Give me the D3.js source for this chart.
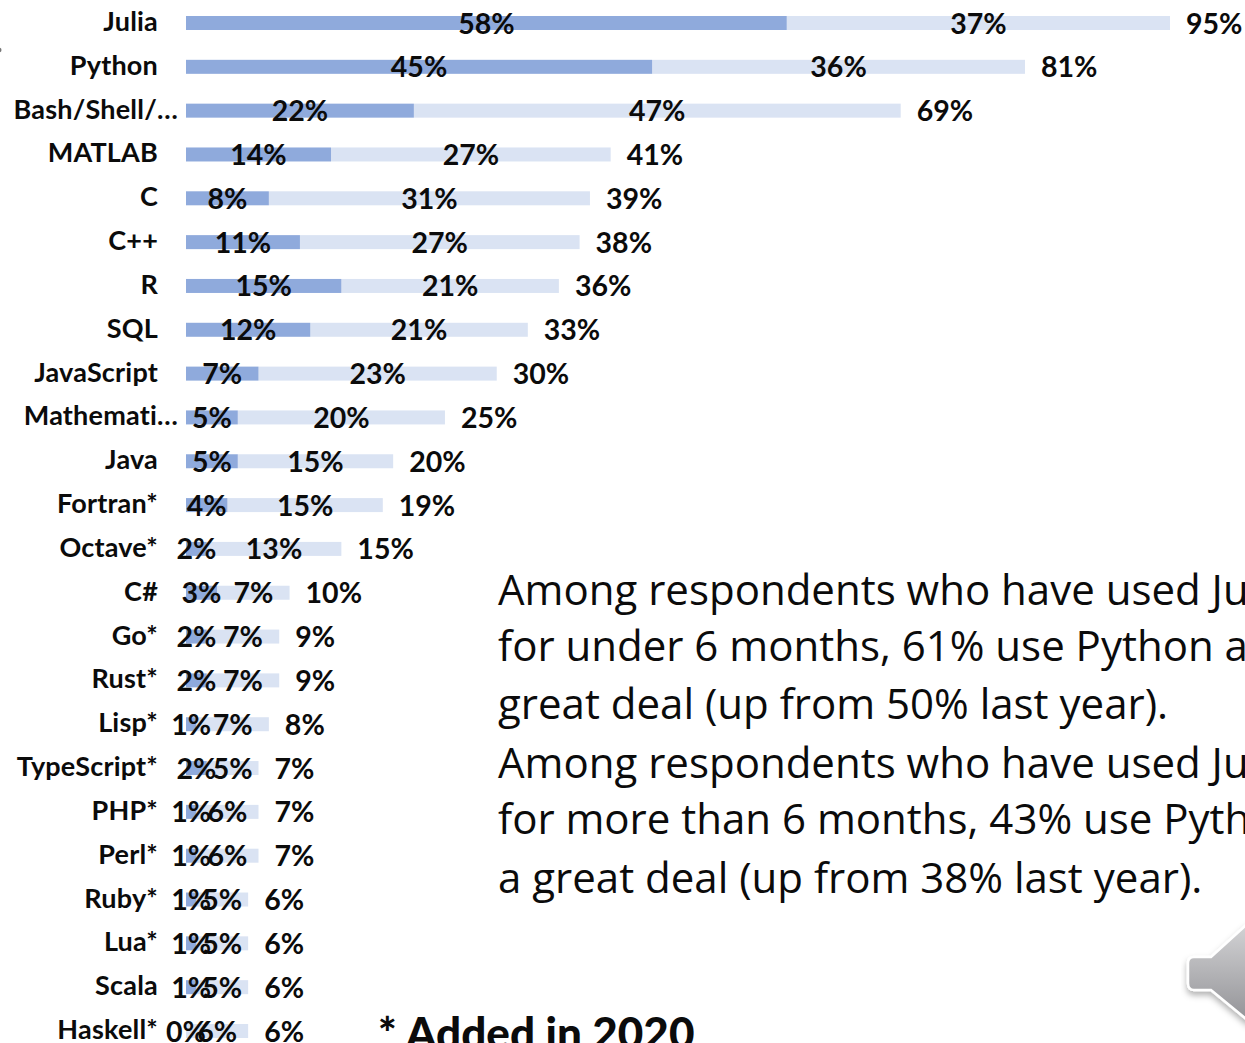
<!DOCTYPE html>
<html>
<head>
<meta charset="utf-8">
<script src="https://cdn.jsdelivr.net/npm/d3@7"></script>
<style>
  html, body { margin: 0; padding: 0; background: #fff; overflow: hidden; }
  svg { display: block; }
  text { font-family: Lato, "Open Sans", sans-serif; fill: #0b0b0b; }
  .cat { font-size: 27px; font-weight: 700; text-anchor: end; letter-spacing: 0.2px; }
  .val { font-size: 28.5px; font-weight: 700; text-anchor: middle; }
  .total { font-size: 28.5px; font-weight: 700; }
  .note { font-family: "Open Sans", sans-serif; font-size: 42px; }
  .added { font-size: 44px; font-weight: 900; }
</style>
</head>
<body>
<svg width="1245" height="1043"></svg>
<script>
var categories = ["Julia", "Python", "Bash/Shell/…", "MATLAB", "C", "C++", "R", "SQL", "JavaScript",
    "Mathemati…", "Java", "Fortran*", "Octave*", "C#", "Go*", "Rust*", "Lisp*", "TypeScript*",
    "PHP*", "Perl*", "Ruby*", "Lua*", "Scala", "Haskell*"];
var greatDeal = [58, 45, 22, 14, 8, 11, 15, 12, 7, 5, 5, 4, 2, 3, 2, 2, 1, 2, 1, 1, 1, 1, 1, 0];
var someUse = [37, 36, 47, 27, 31, 27, 21, 21, 23, 20, 15, 15, 13, 7, 7, 7, 7, 5, 6, 6, 5, 5, 5, 6];
var totals = [95, 81, 69, 41, 39, 38, 36, 33, 30, 25, 20, 19, 15, 10, 9, 9, 8, 7, 7, 7, 6, 6, 6, 6];
var truncated = ["Bash/Shell/…", "Mathemati…"];

var noteLines = [
    "Among respondents who have used Julia",
    "for under 6 months, 61% use Python a",
    "great deal (up from 50% last year).",
    "Among respondents who have used Julia",
    "for more than 6 months, 43% use Python",
    "a great deal (up from 38% last year)."
];
var noteBaselines = [605, 661, 719, 778, 834, 893];

var svg = d3.select("svg");

var x = d3.scaleLinear().domain([0, 95]).range([186, 1170]);
var y = d3.scalePoint().domain(categories).range([23, 1031]);
var barHeight = 14;

var rows = svg.selectAll("g.row")
    .data(categories)
    .enter().append("g")
    .attr("class", "row")
    .attr("transform", function (d) { return "translate(0," + y(d) + ")"; });

rows.append("rect")
    .attr("x", function (d, i) { return x(greatDeal[i]); })
    .attr("y", -barHeight / 2)
    .attr("width", function (d, i) { return x(greatDeal[i] + someUse[i]) - x(greatDeal[i]); })
    .attr("height", barHeight)
    .attr("fill", "#dae3f3");

rows.append("rect")
    .attr("x", x(0))
    .attr("y", -barHeight / 2)
    .attr("width", function (d, i) { return x(greatDeal[i]) - x(0); })
    .attr("height", barHeight)
    .attr("fill", "#8faadc");

rows.append("text")
    .attr("class", "cat")
    .attr("x", function (d) { return truncated.indexOf(d) >= 0 ? 178 : 158; })
    .attr("y", 8)
    .text(function (d) { return d; });

rows.append("text")
    .attr("class", "val")
    .attr("x", function (d, i) { return x(greatDeal[i] / 2); })
    .attr("y", 10.5)
    .text(function (d, i) { return greatDeal[i] + "%"; });

rows.append("text")
    .attr("class", "val")
    .attr("x", function (d, i) { return x(greatDeal[i] + someUse[i] / 2); })
    .attr("y", 10.5)
    .text(function (d, i) { return someUse[i] + "%"; });

rows.append("text")
    .attr("class", "total")
    .attr("x", function (d, i) { return x(greatDeal[i] + someUse[i]) + 16; })
    .attr("y", 10.5)
    .text(function (d, i) { return totals[i] + "%"; });

svg.selectAll("text.note")
    .data(noteLines)
    .enter().append("text")
    .attr("class", "note")
    .attr("x", 498)
    .attr("y", function (d, i) { return noteBaselines[i]; })
    .text(function (d) { return d; });

svg.append("text")
    .attr("class", "added")
    .attr("x", 378)
    .attr("y", 1049)
    .text("* Added in 2020");

// speaker icon in the corner, cut off by the page edge
var defs = svg.append("defs");
var grad = defs.append("linearGradient")
    .attr("id", "speaker")
    .attr("x1", 0).attr("y1", 0).attr("x2", 0).attr("y2", 1);
grad.append("stop").attr("offset", 0).attr("stop-color", "#d4d4d6");
grad.append("stop").attr("offset", 1).attr("stop-color", "#929296");
var blur = defs.append("filter").attr("id", "speakerShadow");
blur.append("feDropShadow")
    .attr("dx", 0).attr("dy", 4).attr("stdDeviation", 3)
    .attr("flood-color", "#000").attr("flood-opacity", 0.3);

svg.append("path")
    .attr("d", "M1250,923 L1245,926 L1211,957 L1194,957 Q1188,957 1188,963 L1188,983 Q1188,990 1194,990 L1211,990 L1245,1018 L1250,1022 Z")
    .attr("fill", "url(#speaker)")
    .attr("stroke", "#fff")
    .attr("stroke-width", 2.5)
    .attr("filter", "url(#speakerShadow)");

// small stray mark on the left edge
svg.append("circle")
    .attr("cx", -1).attr("cy", 50).attr("r", 2.5).attr("fill", "#777");
</script>
</body>
</html>
